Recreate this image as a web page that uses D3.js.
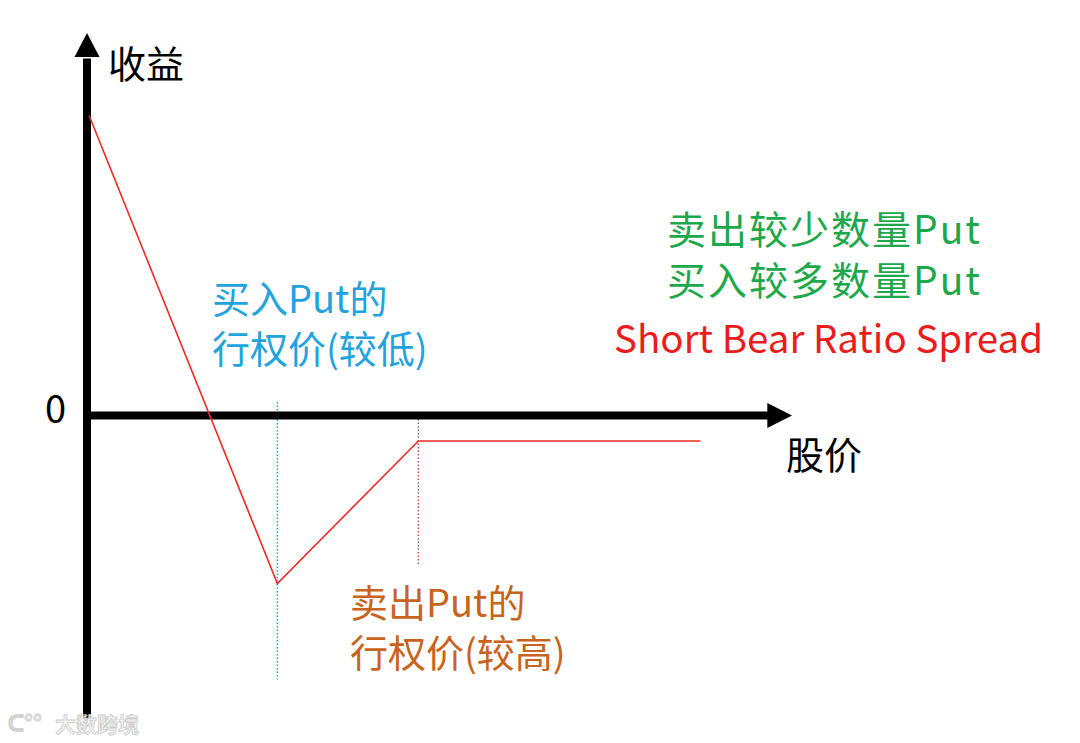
<!DOCTYPE html>
<html lang="zh">
<head>
<meta charset="UTF-8">
<title>Short Bear Ratio Spread</title>
<script src="https://cdn.jsdelivr.net/npm/d3@7"></script>
<style>
  html, body { margin: 0; padding: 0; background: #fff; }
  svg { display: block; font-family: 'Noto Sans CJK SC', 'Noto Sans', sans-serif; }
</style>
</head>
<body>
<svg id="chart"></svg>
<script>
// payoff at expiry (stock price -> profit), abstract units
const prices  = [0.03, 2.7, 4.7, 8.7];
const payoffs = [10, -5.6, -0.85, -0.85];
const lowStrike = 2.7;
const highStrike = 4.7;

const xAxisLabel = '股价';
const yAxisLabel = '收益';
const zeroLabel = '0';
const titleLines = ['卖出较少数量Put', '买入较多数量Put'];
const strategyName = 'Short Bear Ratio Spread';
const lowStrikeLines = ['买入Put的', '行权价(较低)'];
const highStrikeLines = ['卖出Put的', '行权价(较高)'];

const W = 1080, H = 743;
const svg = d3.select('#chart').attr('width', W).attr('height', H);

const x = d3.scaleLinear().domain([0, 10]).range([87, 792]);
const y = d3.scaleLinear().domain([-10.1, 12.75]).range([718.5, 33]);

// strike guide lines
svg.append('line')
    .attr('x1', x(lowStrike)).attr('x2', x(lowStrike))
    .attr('y1', y(0.45)).attr('y2', y(-8.8))
    .attr('stroke', '#1fa3e4').attr('stroke-width', 1.5)
    .attr('stroke-dasharray', '1.5,2');

svg.append('line')
    .attr('x1', x(highStrike)).attr('x2', x(highStrike))
    .attr('y1', y(0)).attr('y2', y(-5.0))
    .attr('stroke', '#c0504d').attr('stroke-width', 1.4)
    .attr('stroke-dasharray', '1.5,2');

// axes
const axisColor = '#000';
svg.append('line')
    .attr('x1', x(0)).attr('x2', x(0))
    .attr('y1', y(-10.1)).attr('y2', y(11.9))
    .attr('stroke', axisColor).attr('stroke-width', 8);
svg.append('path')
    .attr('d', `M${x(0)},${y(12.75)} L${x(0) - 12.5},${y(11.95)} L${x(0) + 12.5},${y(11.95)} Z`)
    .attr('fill', axisColor);

svg.append('line')
    .attr('x1', x(0) - 4).attr('x2', x(9.7))
    .attr('y1', y(0)).attr('y2', y(0))
    .attr('stroke', axisColor).attr('stroke-width', 8);
svg.append('path')
    .attr('d', `M${x(10)},${y(0)} L${x(9.65)},${y(0) - 12.5} L${x(9.65)},${y(0) + 12.5} Z`)
    .attr('fill', axisColor);

// payoff line
const line = d3.line().x(d => x(d[0])).y(d => y(d[1]));
svg.append('path')
    .datum(d3.zip(prices, payoffs))
    .attr('d', line)
    .attr('fill', 'none')
    .attr('stroke', '#ec2b24')
    .attr('stroke-width', 1.6)
    .attr('stroke-linejoin', 'miter');

// labels
svg.append('text').attr('x', 108).attr('y', 78)
    .attr('font-size', 38).attr('fill', '#000').text(yAxisLabel);
svg.append('text').attr('x', 45).attr('y', 423)
    .attr('font-size', 38).attr('fill', '#000').text(zeroLabel);
svg.append('text').attr('x', 786).attr('y', 469)
    .attr('font-size', 38).attr('fill', '#000').text(xAxisLabel);

// multi-line text as one <text> with tspans
function block(lines, x0, y0, dy, color, size, spacing) {
  const t = svg.append('text').attr('x', x0).attr('y', y0)
      .attr('font-size', size).attr('fill', color)
      .attr('letter-spacing', spacing || 0);
  t.selectAll('tspan').data(lines).join('tspan')
      .attr('x', x0)
      .attr('dy', (d, i) => i === 0 ? 0 : dy)
      .text(d => d);
}

block(titleLines, 667, 244, 51, '#1ea84c', 39, 2);
svg.append('text').attr('x', 614).attr('y', 353)
    .attr('font-size', 38.5).attr('fill', '#ec1c1c').text(strategyName);

block(lowStrikeLines, 212, 313, 50, '#22a3de', 38);
block(highStrikeLines, 350, 617, 50, '#c86420', 38);

// watermark
const wm = svg.append('g').attr('opacity', 0.9);
wm.append('text').attr('x', 8).attr('y', 731)
    .attr('font-size', 22).attr('font-weight', 700)
    .attr('fill', '#f0f0f0').attr('stroke', '#c8c8c8').attr('stroke-width', 0.8)
    .text('ᑕ°°');
wm.append('text').attr('x', 55).attr('y', 732)
    .attr('font-size', 21).attr('font-weight', 700)
    .attr('fill', '#f0f0f0').attr('stroke', '#c8c8c8').attr('stroke-width', 0.8)
    .text('大数跨境');
</script>
</body>
</html>
